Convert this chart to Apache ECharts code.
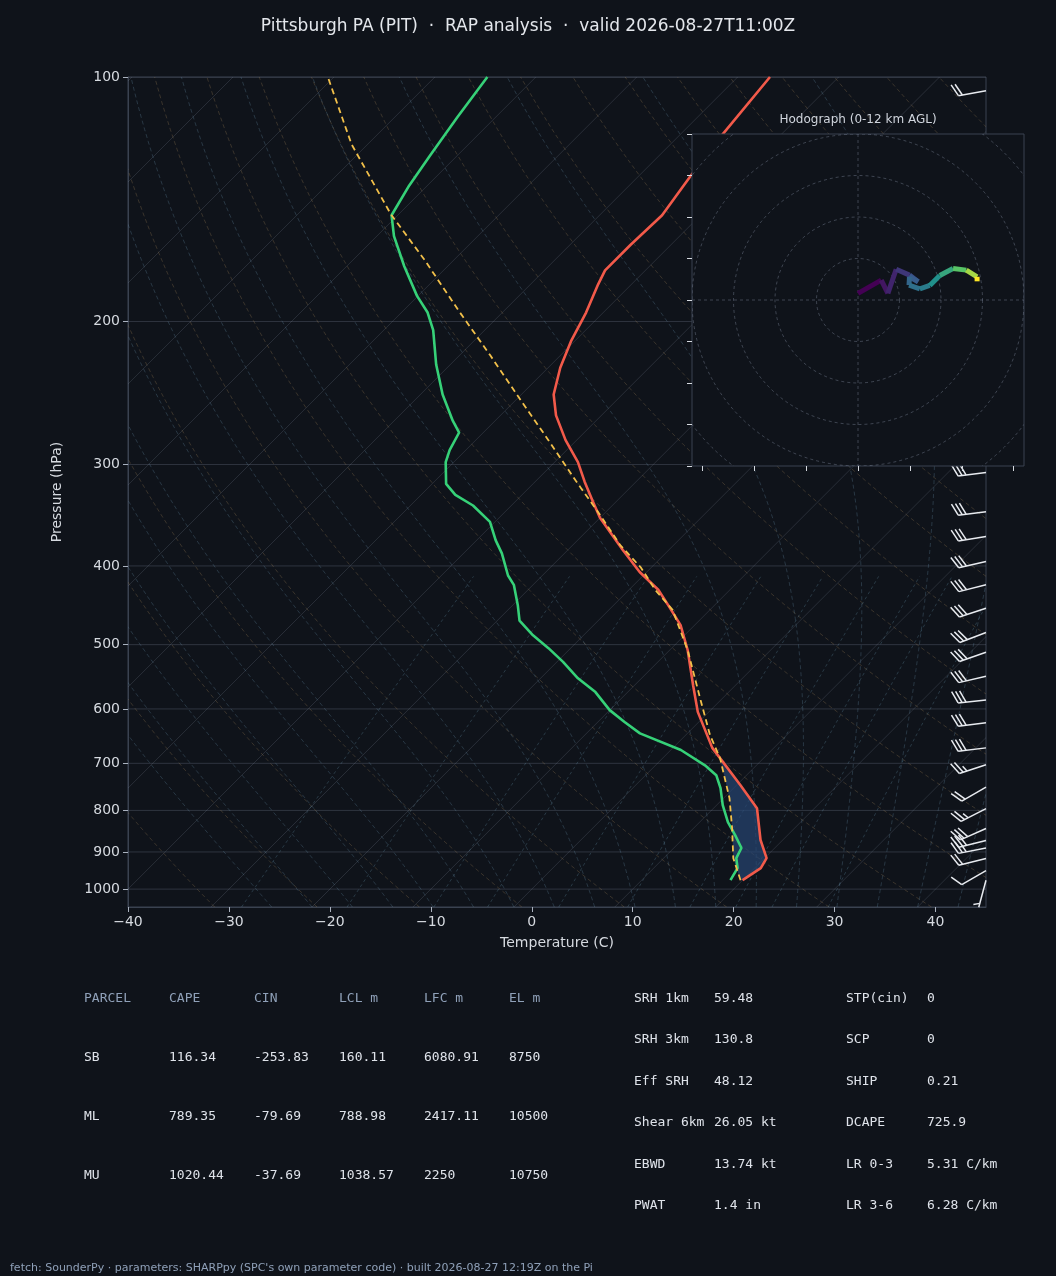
<!DOCTYPE html>
<html>
<head>
<meta charset="utf-8">
<script src="https://cdn.jsdelivr.net/npm/echarts@6/dist/echarts.min.js"></script>
<style>html,body{margin:0;background:#0f131a}#c{width:1056px;height:1276px}</style>
</head>
<body>
<div id="c"></div>
<script>
// sounding (true temperature, hPa)
var tempP = [975, 942, 916, 870, 795, 745, 670, 605, 561, 508, 473, 447, 428, 407, 382, 349, 332, 315, 298, 280, 261, 246, 228, 211, 195, 180, 173, 161, 148, 132, 118, 100];
var tempT = [20.0, 20.6, 20.2, 17.8, 14.3, 10.4, 3.9, -1.1, -4.2, -8.2, -11.4, -14.6, -17.1, -20.7, -24.6, -30.0, -32.5, -35.1, -37.7, -41.1, -44.5, -46.8, -48.8, -50.4, -51.7, -53.3, -54.0, -54.0, -53.8, -54.9, -55.8, -56.8];
var dewP = [975, 942, 916, 890, 858, 827, 788, 751, 724, 704, 674, 643, 623, 602, 572, 550, 525, 505, 487, 467, 447, 422, 411, 386, 372, 353, 337, 327, 317, 298, 288, 274, 265, 246, 226, 205, 195, 186, 171, 157, 148, 136, 125, 112, 100];
var dewT = [18.8, 18.3, 17.2, 16.7, 14.8, 12.8, 10.6, 8.7, 7.0, 4.9, 1.0, -4.7, -7.3, -10.0, -13.2, -16.3, -19.4, -22.2, -25.0, -27.8, -29.5, -31.9, -33.4, -36.2, -38.1, -40.5, -43.8, -46.6, -48.6, -50.8, -51.6, -52.4, -54.2, -57.8, -61.4, -65.1, -67.4, -70.1, -74.3, -78.3, -80.6, -81.8, -82.7, -83.8, -84.8];
var parcelP = [975, 916, 841, 773, 690, 646, 585, 508, 453, 428, 402, 377, 346, 314, 280, 250, 220, 194, 168, 147.5, 121, 100];
var parcelT = [19.8, 16.9, 13.8, 10.6, 5.7, 2.4, -2.0, -8.2, -13.7, -17.4, -21.0, -25.3, -30.3, -36.1, -42.8, -49.5, -57.0, -64.5, -72.9, -80.8, -91.6, -100.6];

// wind barbs
var windP = [975, 949, 917, 890, 871, 842, 796, 749, 703, 670, 624, 585, 547, 511, 483, 451, 422, 395, 368, 343, 307, 250, 200, 150, 104];
var windSpd = [5, 10, 20, 25, 30, 30, 25, 20, 25, 30, 30, 30, 30, 30, 30, 30, 30, 30, 30, 30, 30, 30, 30, 25, 20];
var windDir = [195, 240, 256, 259, 256, 246, 243, 240, 252, 263, 263, 264, 257, 251, 249, 252, 256, 257, 261, 263, 263, 262, 262, 261, 260];

// hodograph (kt) with height km
var hodoU = [0, 5.6, 7.2, 9.2, 12.4, 14.5, 12.4, 12.3, 14.9, 17.3, 19.7, 22.9, 26.1, 28.7, 28.7];
var hodoV = [1.6, 4.8, 1.6, 7.4, 6.0, 4.4, 5.6, 3.6, 2.7, 3.5, 5.9, 7.6, 7.2, 5.6, 4.5];
var hodoZ = [0, 0.7, 1.2, 1.8, 2.6, 3.2, 3.6, 4.0, 4.6, 5.5, 6.5, 8, 9.5, 11, 12];

var pressureTicks = [100, 200, 300, 400, 500, 600, 700, 800, 900, 1000];
var hodoTicksX = [-37.5, -25, -12.5, 0, 12.5, 25, 37.5];

var parcelHead = ['PARCEL', 'CAPE', 'CIN', 'LCL m', 'LFC m', 'EL m'];
var parcelRows = [
  ['SB', '116.34', '-253.83', '160.11', '6080.91', '8750'],
  ['ML', '789.35', '-79.69', '788.98', '2417.11', '10500'],
  ['MU', '1020.44', '-37.69', '1038.57', '2250', '10750']
];
var indexLeft = [['SRH 1km', '59.48'], ['SRH 3km', '130.8'], ['Eff SRH', '48.12'], ['Shear 6km', '26.05 kt'], ['EBWD', '13.74 kt'], ['PWAT', '1.4 in']];
var indexRight = [['STP(cin)', '0'], ['SCP', '0'], ['SHIP', '0.21'], ['DCAPE', '725.9'], ['LR 0-3', '5.31 C/km'], ['LR 3-6', '6.28 C/km']];

var SKEW = 80.4;
var PBOT = 1052;
function X(T, p) { return T + SKEW * Math.log10(1000 / p); }
function pts(P, T) { return P.map(function (p, i) { return [X(T[i], p), Math.log10(p)]; }); }

// background reference lines
var levels = [];
for (var p = PBOT; p >= 99; p -= 8) levels.push(p);
levels.push(100);
var isotherms = [], dryAd = [], moistAd = [], mixLines = [], isobars = [];
for (var t = -130; t <= 50; t += 10) isotherms.push([[X(t, PBOT), Math.log10(PBOT)], [X(t, 100), 2]]);
pressureTicks.forEach(function (pp) { isobars.push([[-40, Math.log10(pp)], [45, Math.log10(pp)]]); });
for (var th = 240; th <= 480; th += 10) {
  dryAd.push(levels.map(function (pp) { return [X(th * Math.pow(pp / 1000, 0.2857) - 273.15, pp), Math.log10(pp)]; }));
}
function es(tc) { return 6.112 * Math.exp(17.67 * tc / (tc + 243.5)); }
for (var t0 = -24; t0 <= 44; t0 += 4) {
  var T = t0 + 273.15, line = [], pp = PBOT;
  while (pp >= 100) {
    line.push([X(T - 273.15, pp), Math.log10(pp)]);
    var rs = 0.622 * es(T - 273.15) / (pp - es(T - 273.15));
    var dTdp = (287 * T + 2.5e6 * rs) / (pp * (1005 + 2.5e6 * 2.5e6 * rs * 0.622 / (287 * T * T)));
    T -= dTdp * 4; pp -= 4;
  }
  moistAd.push(line);
}
[0.4, 1, 2, 3, 5, 8, 12, 16, 20, 28].forEach(function (w) {
  var line = [];
  for (var pp = PBOT; pp >= 400; pp -= 20) {
    var e = (w / 1000) * pp / (0.622 + w / 1000), l = Math.log(e / 6.112);
    line.push([X(243.5 * l / (17.67 - l), pp), Math.log10(pp)]);
  }
  mixLines.push(line);
});

function lineSeries(lines, style) {
  return {
    type: 'custom', silent: true, z: 1,
    data: lines.map(function (l, i) { return [i]; }),
    renderItem: function (params, api) {
      var c = params.coordSys;
      return {
        type: 'polyline',
        shape: { points: lines[params.dataIndex].map(function (q) { return api.coord(q); }) },
        style: style,
        clipPath: { type: 'rect', shape: { x: c.x, y: c.y, width: c.width, height: c.height } }
      };
    }
  };
}

var viridis = [[68, 1, 84], [59, 82, 139], [33, 145, 140], [94, 201, 98], [253, 231, 37]];
function vcol(f) {
  f = Math.max(0, Math.min(1, f)) * (viridis.length - 1);
  var i = Math.min(Math.floor(f), viridis.length - 2), r = f - i, a = viridis[i], b = viridis[i + 1];
  return 'rgb(' + [0, 1, 2].map(function (k) { return Math.round(a[k] + (b[k] - a[k]) * r); }).join(',') + ')';
}

// CAPE shading between parcel and environment (lowest part)
var shadeP = tempP.slice(0, 6).concat([690]).concat(parcelP.slice(0, 5).reverse());
var shadeT = tempT.slice(0, 6).concat([5.7]).concat(parcelT.slice(0, 5).reverse());
var shadePts = pts(shadeP, shadeT);

var fontSans = 'DejaVu Sans', fontMono = 'DejaVu Sans Mono';
var graphics = [
  { type: 'text', left: 'center', top: 18, style: { text: 'Pittsburgh PA (PIT)  \u00b7  RAP analysis  \u00b7  valid 2026-08-27T11:00Z', fill: '#e4e7ec', font: '17px ' + fontSans } },
  { type: 'rect', z: 50, shape: { x: 692, y: 134, width: 332, height: 332 }, style: { fill: '#0f131a', stroke: '#3a4250', lineWidth: 1 } },
  { type: 'text', z: 51, x: 858, y: 114, style: { text: 'Hodograph (0-12 km AGL)', fill: '#d0d5dd', font: '12px ' + fontSans, textAlign: 'center' } },
  { type: 'text', x: 10, y: 1263, style: { text: 'fetch: SounderPy \u00b7 parameters: SHARPpy (SPC\'s own parameter code) \u00b7 built 2026-08-27 12:19Z on the Pi', fill: '#8fa0b8', font: '11px ' + fontSans } }
];
var colX = [84, 169, 254, 339, 424, 509];
parcelHead.forEach(function (h, i) {
  graphics.push({ type: 'text', x: colX[i], y: 992, style: { text: h, fill: '#8fa0b8', font: '13px ' + fontMono } });
});
parcelRows.forEach(function (r, j) {
  r.forEach(function (v, i) {
    graphics.push({ type: 'text', x: colX[i], y: 1051 + j * 59, style: { text: v, fill: '#dfe3ea', font: '13px ' + fontMono } });
  });
});
[[indexLeft, 634, 714], [indexRight, 846, 927]].forEach(function (g) {
  g[0].forEach(function (r, j) {
    graphics.push({ type: 'text', x: g[1], y: 992 + j * 41.5, style: { text: r[0], fill: '#dfe3ea', font: '13px ' + fontMono } });
    graphics.push({ type: 'text', x: g[2], y: 992 + j * 41.5, style: { text: r[1], fill: '#dfe3ea', font: '13px ' + fontMono } });
  });
});

var axisCol = '#3a4250', labCol = '#d6dae0';
var option = {
  backgroundColor: '#0f131a',
  animation: false,
  graphic: graphics,
  grid: [
    { left: 128, top: 77, width: 858, height: 830, show: true, borderColor: axisCol, borderWidth: 1, backgroundColor: 'transparent' },
    { left: 692, top: 134, width: 332, height: 332 }
  ],
  xAxis: [
    {
      type: 'value', min: -40, max: 45, interval: 10,
      name: 'Temperature (C)', nameLocation: 'middle', nameGap: 29,
      nameTextStyle: { color: labCol, fontSize: 14, fontFamily: fontSans },
      axisLine: { show: true, onZero: false, lineStyle: { color: axisCol } },
      axisTick: { show: true, lineStyle: { color: '#aab2bf' } },
      axisLabel: { color: labCol, fontSize: 14, fontFamily: fontSans, showMaxLabel: false, formatter: function (v) { return v === 45 ? '' : String(v).replace('-', '\u2212'); } },
      splitLine: { show: false }
    },
    {
      gridIndex: 1, type: 'value', min: -40, max: 40, z: 60,
      axisLine: { show: false, onZero: false },
      axisTick: { show: true, customValues: hodoTicksX, length: 5, lineStyle: { color: '#d6dae0' } },
      axisLabel: { show: false }, splitLine: { show: false }
    }
  ],
  yAxis: [
    {
      type: 'value', inverse: true, min: 2, max: Math.log10(PBOT),
      name: 'Pressure (hPa)', nameLocation: 'middle', nameGap: 64, nameRotate: 90,
      nameTextStyle: { color: labCol, fontSize: 14, fontFamily: fontSans },
      axisLine: { show: true, onZero: false, lineStyle: { color: axisCol } },
      axisTick: { show: true, customValues: pressureTicks.map(Math.log10), lineStyle: { color: '#aab2bf' } },
      axisLabel: { color: labCol, fontSize: 14, fontFamily: fontSans, customValues: pressureTicks.map(Math.log10), formatter: function (v) { return Math.round(Math.pow(10, v)); } },
      splitLine: { show: false }
    },
    {
      gridIndex: 1, type: 'value', min: -40, max: 40, interval: 10, z: 60,
      axisLine: { show: false, onZero: false },
      axisTick: { show: true, length: 5, lineStyle: { color: '#d6dae0' } },
      axisLabel: { show: false }, splitLine: { show: false }
    }
  ],
  series: [
    lineSeries(isobars, { stroke: 'rgba(130,140,160,0.28)', lineWidth: 1, fill: null }),
    lineSeries(isotherms, { stroke: 'rgba(130,140,160,0.22)', lineWidth: 1, fill: null }),
    lineSeries(dryAd, { stroke: 'rgba(170,135,90,0.28)', lineWidth: 1, lineDash: [4, 3], fill: null }),
    lineSeries(moistAd, { stroke: 'rgba(100,140,165,0.3)', lineWidth: 1, lineDash: [4, 3], fill: null }),
    lineSeries(mixLines, { stroke: 'rgba(100,145,170,0.3)', lineWidth: 1, lineDash: [3, 3], fill: null }),
    {
      type: 'custom', silent: true, z: 2, data: [[0]],
      renderItem: function (params, api) {
        return { type: 'polygon', shape: { points: shadePts.map(function (q) { return api.coord(q); }) }, style: { fill: 'rgba(38,70,115,0.7)' } };
      }
    },
    { type: 'line', data: pts(tempP, tempT), symbol: 'none', z: 3, lineStyle: { color: '#f25a4a', width: 2.6 } },
    { type: 'line', data: pts(dewP, dewT), symbol: 'none', z: 3, lineStyle: { color: '#36d178', width: 2.6 } },
    { type: 'line', data: pts(parcelP, parcelT), symbol: 'none', z: 3, lineStyle: { color: '#f2c04a', width: 1.8, type: [6, 4] } },
    {
      type: 'custom', silent: true, z: 4,
      data: windP.map(function (p, i) { return [45, Math.log10(p), windSpd[i], windDir[i]]; }),
      renderItem: function (params, api) {
        var base = api.coord([api.value(0), api.value(1)]);
        var spd = api.value(2), d = api.value(3) * Math.PI / 180;
        var sx = Math.sin(d), sy = -Math.cos(d);
        var bx = -sy + 0.45 * sx, by = sx + 0.45 * sy, bl = Math.sqrt(bx * bx + by * by);
        bx /= bl; by /= bl;
        var L = 28, tip = [base[0] + L * sx, base[1] + L * sy];
        var kids = [{ type: 'line', shape: { x1: base[0], y1: base[1], x2: tip[0], y2: tip[1] }, style: { stroke: '#e8ebf0', lineWidth: 1.5 } }];
        var full = Math.floor(spd / 10), half = (spd % 10) >= 5, k = 0;
        function barb(len) {
          var px = tip[0] - k * 4 * sx, py = tip[1] - k * 4 * sy;
          kids.push({ type: 'line', shape: { x1: px, y1: py, x2: px + len * bx, y2: py + len * by }, style: { stroke: '#e8ebf0', lineWidth: 1.5 } });
          k++;
        }
        for (var i = 0; i < full; i++) barb(13);
        if (half) { if (full === 0) k = 1; barb(6.5); }
        return { type: 'group', children: kids };
      }
    },
    {
      type: 'custom', xAxisIndex: 1, yAxisIndex: 1, silent: true, z: 65, data: [[0, 0]],
      renderItem: function (params, api) {
        var c = api.coord([0, 0]), cs = params.coordSys, kids = [];
        var st = { stroke: 'rgba(140,150,170,0.38)', lineWidth: 1, lineDash: [3, 3], fill: null };
        for (var r = 10; r <= 60; r += 10) kids.push({ type: 'circle', shape: { cx: c[0], cy: c[1], r: api.size([r, 0])[0] }, style: st });
        kids.push({ type: 'line', shape: { x1: cs.x, y1: c[1], x2: cs.x + cs.width, y2: c[1] }, style: st });
        kids.push({ type: 'line', shape: { x1: c[0], y1: cs.y, x2: c[0], y2: cs.y + cs.height }, style: st });
        return { type: 'group', children: kids, clipPath: { type: 'rect', shape: { x: cs.x, y: cs.y, width: cs.width, height: cs.height } } };
      }
    },
    {
      type: 'custom', xAxisIndex: 1, yAxisIndex: 1, silent: true, z: 70,
      data: hodoU.slice(1).map(function (u, i) { return [hodoU[i], hodoV[i], u, hodoV[i + 1], hodoZ[i]]; }),
      renderItem: function (params, api) {
        var a = api.coord([api.value(0), api.value(1)]), b = api.coord([api.value(2), api.value(3)]);
        return { type: 'line', shape: { x1: a[0], y1: a[1], x2: b[0], y2: b[1] }, style: { stroke: vcol(api.value(4) / 11), lineWidth: 5, lineCap: 'butt' } };
      }
    }
  ]
};
var chart = echarts.init(document.getElementById('c'));
chart.setOption(option);
</script>
</body>
</html>
